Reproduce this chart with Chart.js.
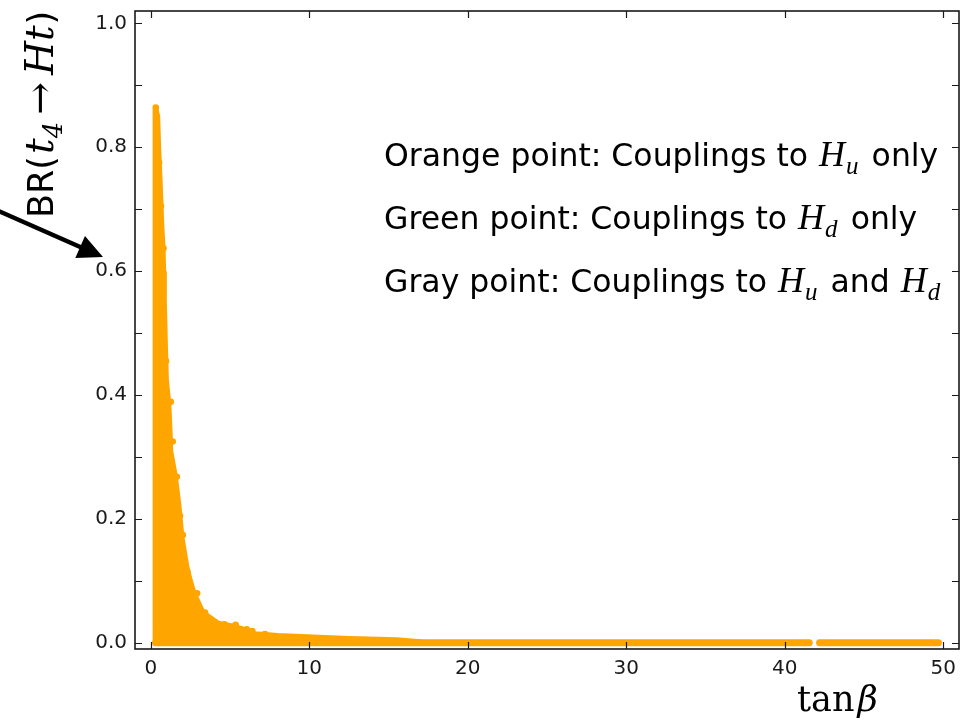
<!DOCTYPE html>
<html lang="en">
<head>
<meta charset="UTF-8">
<title>BR(t4 → Ht) vs tanβ</title>
<script src="https://cdn.jsdelivr.net/npm/chart.js@4"></script>
<style>
    html, body { margin: 0; padding: 0; background: #fff; }
    #wrap { width: 963px; height: 725px; position: relative; }
</style>
</head>
<body>
<div id="wrap"><canvas id="chart"></canvas></div>
<script>
// upper edge of the dense orange cloud (tanβ, BR)
var edgeTanb = [0.30, 0.30, 0.40, 0.46, 0.56, 0.66, 0.74, 0.78, 0.82, 0.88, 0.95, 1.10, 1.18, 1.22, 1.52, 1.74, 1.93, 2.24, 2.45, 2.70, 3.22, 3.57, 4.25, 5.05, 5.75, 6.55, 8.00, 10.6, 12.5, 15.5, 17.0];
var edgeBr   = [0.000, 0.860, 0.850, 0.800, 0.741, 0.674, 0.637, 0.598, 0.553, 0.488, 0.424, 0.387, 0.343, 0.310, 0.268, 0.222, 0.171, 0.123, 0.101, 0.080, 0.051, 0.043, 0.031, 0.027, 0.022, 0.014, 0.011, 0.008, 0.006, 0.004, 0.001];

// band of points lying on BR ~ 0 (null = gap in the scan)
var floorTanb = [0.30, 41.55, 41.9, 42.2, 49.7];
var floorBr   = [0, 0, null, 0, 0];

// single points sticking out of the cloud
var dotTanb = [0.31, 0.52, 0.64, 0.80, 0.96, 1.26, 1.38, 1.64, 1.84, 2.02, 2.30, 2.92, 3.42, 4.65, 5.35, 6.05, 6.40, 7.2];
var dotBr   = [0.864, 0.775, 0.705, 0.637, 0.455, 0.389, 0.325, 0.268, 0.205, 0.174, 0.115, 0.080, 0.049, 0.030, 0.029, 0.022, 0.019, 0.014];

var xTicks = [0, 10, 20, 30, 40, 50];
var yTicks = [0, 0.1, 0.2, 0.3, 0.4, 0.5, 0.6, 0.7, 0.8, 0.9, 1.0];

var ORANGE = '#ffa500';
var INK = '#1a1a1a';

function pts(xs, ys) {
    return xs.map(function (x, i) { return { x: x, y: ys[i] }; });
}

// box round the plot with inward ticks on all four sides
var framePlugin = {
    id: 'frame',
    afterDraw: function (chart) {
        var ctx = chart.ctx, a = chart.chartArea;
        var sx = chart.scales.x, sy = chart.scales.y;
        ctx.save();
        ctx.strokeStyle = INK;
        ctx.lineWidth = 1.2;
        ctx.beginPath();
        xTicks.forEach(function (v) {
            var px = Math.round(sx.getPixelForValue(v)) + 0.5;
            ctx.moveTo(px, a.bottom); ctx.lineTo(px, a.bottom - 7);
            ctx.moveTo(px, a.top); ctx.lineTo(px, a.top + 7);
        });
        yTicks.forEach(function (v) {
            var py = Math.round(sy.getPixelForValue(v)) + 0.5;
            ctx.moveTo(a.left, py); ctx.lineTo(a.left + 7, py);
            ctx.moveTo(a.right, py); ctx.lineTo(a.right - 7, py);
        });
        ctx.stroke();
        ctx.lineWidth = 1.6;
        ctx.strokeRect(a.left, a.top, a.right - a.left, a.bottom - a.top);
        ctx.restore();
    }
};

// draws a run of text pieces [text, font, baseline shift, extra gap]
function drawRun(ctx, x, y, pieces) {
    pieces.forEach(function (p) {
        ctx.font = p[1];
        ctx.fillText(p[0], x, y + (p[2] || 0));
        x += ctx.measureText(p[0]).width + (p[3] || 0);
    });
    return x;
}

var textPlugin = {
    id: 'texts',
    afterDraw: function (chart) {
        var ctx = chart.ctx;
        var sans = '31.5px "DejaVu Sans"';
        var mathH = 'italic 36px "Liberation Serif"';
        var mathSub = 'italic 25px "Liberation Serif"';
        ctx.save();
        ctx.fillStyle = '#000';
        ctx.textBaseline = 'alphabetic';
        ctx.textAlign = 'left';

        drawRun(ctx, 384, 166, [['Orange point: Couplings to ', sans, 0, 1], ['H', mathH, 0, 1], ['u', mathSub, 8, 3], [' only', sans]]);
        drawRun(ctx, 384, 229, [['Green point: Couplings to ', sans, 0, 1], ['H', mathH, 0, 1], ['d', mathSub, 8, 3], [' only', sans]]);
        drawRun(ctx, 384, 292, [['Gray point: Couplings to ', sans, 0, 1], ['H', mathH, 0, 1], ['u', mathSub, 8, 3], [' and ', sans, 0, 1], ['H', mathH, 0, 1], ['d', mathSub, 8, 0]]);

        // x axis title
        ctx.font = '35px "DejaVu Serif"';
        ctx.fillText('tan', 797, 711);
        var w = ctx.measureText('tan').width;
        ctx.font = 'italic 35px "DejaVu Serif"';
        ctx.fillText('β', 797 + w + 3, 711);

        // y axis title, rotated
        ctx.save();
        ctx.translate(53, 218);
        ctx.rotate(-Math.PI / 2);
        var sansY = '35px "DejaVu Sans"';
        var mathY = 'italic 39px "DejaVu Serif"';
        drawRun(ctx, 0, 0, [
            ['BR(', sansY, 0, 2],
            ['t', mathY, 0, 0],
            ['4', 'italic 26px "DejaVu Serif"', 9, 7],
            ['→', '39px "DejaVu Serif"', 0, 7],
            ['H', mathY, 0, 0],
            ['t', mathY, 0, 1],
            [')', sansY, 0, 0]
        ]);
        ctx.restore();

        // arrow pointing at the axis
        var tipX = 103, tipY = 257, fromX = -6, fromY = 209;
        var ang = Math.atan2(tipY - fromY, tipX - fromX);
        var headLen = 25, headHalf = 12;
        var bx = tipX - headLen * Math.cos(ang), by = tipY - headLen * Math.sin(ang);
        ctx.strokeStyle = '#000';
        ctx.lineWidth = 4.5;
        ctx.beginPath();
        ctx.moveTo(fromX, fromY);
        ctx.lineTo(bx + 2 * Math.cos(ang), by + 2 * Math.sin(ang));
        ctx.stroke();
        ctx.beginPath();
        ctx.moveTo(tipX, tipY);
        ctx.lineTo(bx + headHalf * Math.sin(ang), by - headHalf * Math.cos(ang));
        ctx.lineTo(bx - headHalf * Math.sin(ang), by + headHalf * Math.cos(ang));
        ctx.closePath();
        ctx.fillStyle = '#000';
        ctx.fill();
        ctx.restore();
    }
};

var tickFont = { family: 'DejaVu Sans', size: 20 };

new Chart(document.getElementById('chart'), {
    type: 'line',
    data: {
        datasets: [{
            data: pts(edgeTanb, edgeBr),
            borderColor: ORANGE,
            backgroundColor: ORANGE,
            borderWidth: 6,
            borderJoinStyle: 'round',
            borderCapStyle: 'round',
            fill: 'origin',
            pointRadius: 0,
            tension: 0
        }, {
            data: pts(floorTanb, floorBr),
            borderColor: ORANGE,
            borderWidth: 7,
            borderCapStyle: 'round',
            fill: false,
            spanGaps: false,
            pointRadius: 0
        }, {
            data: pts(dotTanb, dotBr),
            showLine: false,
            pointRadius: 3.3,
            pointBorderWidth: 0,
            pointBackgroundColor: ORANGE,
            borderColor: ORANGE
        }]
    },
    options: {
        responsive: true,
        maintainAspectRatio: false,
        animation: false,
        events: [],
        layout: { padding: { top: 11, right: 2, left: 0, bottom: 0 } },
        plugins: { legend: { display: false }, tooltip: { enabled: false } },
        scales: {
            x: {
                type: 'linear',
                min: -1,
                max: 51,
                grid: { display: false, drawTicks: false },
                border: { display: false },
                ticks: {
                    padding: 8,
                    color: INK,
                    font: tickFont,
                    maxRotation: 0,
                    callback: function (v) { return String(v); }
                },
                afterBuildTicks: function (ax) {
                    ax.ticks = xTicks.map(function (v) { return { value: v }; });
                },
                afterFit: function (ax) {
                    ax.height = 76;
                    ax.paddingLeft = 0; ax.paddingRight = 0;
                }
            },
            y: {
                type: 'linear',
                min: -0.01,
                max: 1.02,
                grid: { display: false, drawTicks: false },
                border: { display: false },
                ticks: {
                    padding: 8,
                    color: INK,
                    font: tickFont,
                    callback: function (v) {
                        return Math.round(v * 10) % 2 === 0 ? v.toFixed(1) : '';
                    }
                },
                afterBuildTicks: function (ax) {
                    ax.ticks = yTicks.map(function (v) { return { value: v }; });
                },
                afterFit: function (ax) {
                    ax.width = 135;
                    ax.paddingTop = 0; ax.paddingBottom = 0;
                }
            }
        }
    },
    plugins: [framePlugin, textPlugin]
});
</script>
</body>
</html>
